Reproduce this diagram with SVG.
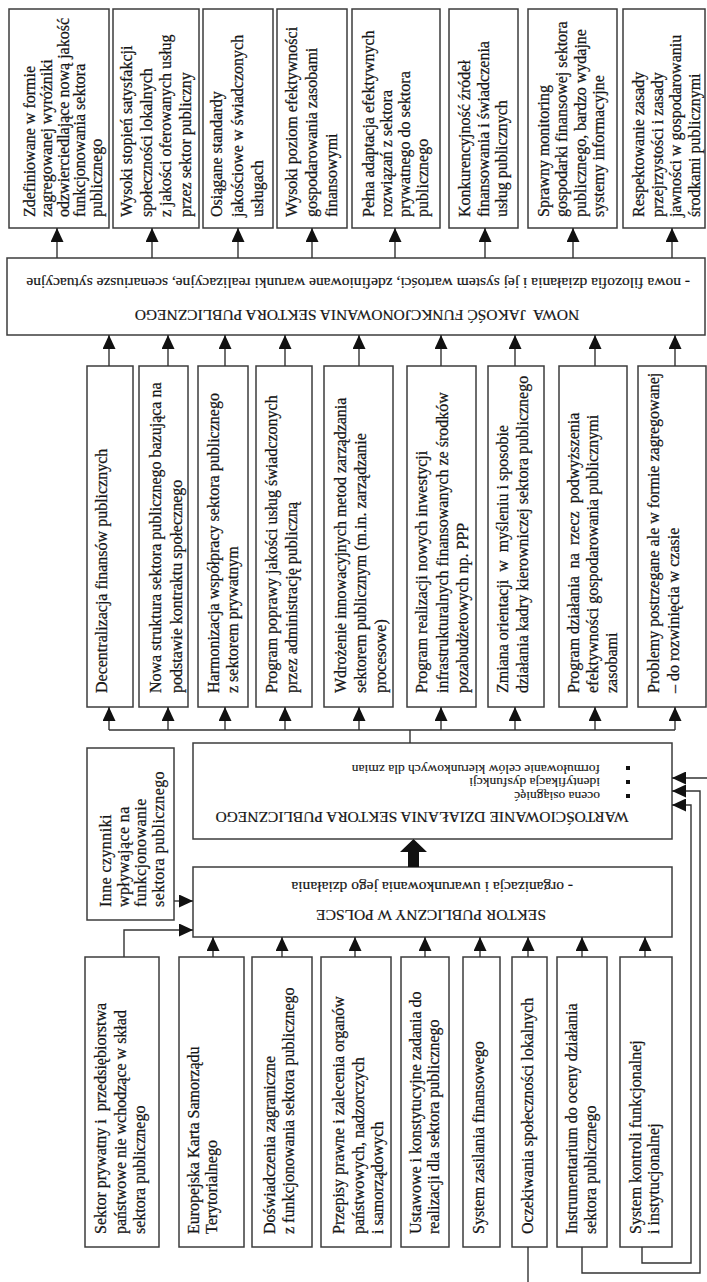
<svg xmlns="http://www.w3.org/2000/svg" width="707" height="1282" viewBox="0 0 707 1282">
<style>
.bg{fill:#fff}
.box{fill:#fff;stroke:#3c3c3c;stroke-width:1.5}
.t{font-family:"Liberation Serif","Times New Roman",serif;font-size:16px;fill:#151515;stroke:#151515;stroke-width:0.25;white-space:pre}
.h{font-family:"Liberation Serif","Times New Roman",serif;font-size:15.5px;fill:#151515;stroke:#151515;stroke-width:0.2;white-space:pre}
.s{font-family:"Liberation Serif","Times New Roman",serif;font-size:13.5px;fill:#151515;stroke:#151515;stroke-width:0.15;white-space:pre}
.ln{stroke:#333;stroke-width:1.4;fill:none}
.ar{stroke:#333;stroke-width:1.4;fill:none;marker-end:url(#ah)}
</style>
<defs>
<marker id="ah" viewBox="0 0 14 13" refX="14" refY="6.5" markerWidth="14" markerHeight="13" markerUnits="userSpaceOnUse" orient="auto">
<path d="M0,0 L14,6.5 L0,13 z" fill="#111"/>
</marker>
</defs>
<rect class="bg" x="0" y="0" width="707" height="1282"/>

<!-- top result boxes -->
<g id="top1"><rect class="box" x="9" y="9" width="100" height="219"/>
<text class="t" transform="translate(35,217) rotate(-90)"><tspan x="0" y="0">Zdefiniowane w formie</tspan><tspan x="0" y="16.8">zagregowanej wyróżniki</tspan><tspan x="0" y="33.6">odzwierciedlające nową jakość</tspan><tspan x="0" y="50.4">funkcjonowania sektora</tspan><tspan x="0" y="67.2">publicznego</tspan></text></g>
<g id="top2"><rect class="box" x="113" y="9" width="86" height="219"/>
<text class="t" transform="translate(132,217) rotate(-90)"><tspan x="0" y="0">Wysoki stopień satysfakcji</tspan><tspan x="0" y="19.7">społeczności lokalnych</tspan><tspan x="0" y="39.4">z jakości oferowanych usług</tspan><tspan x="0" y="59.1">przez sektor publiczny</tspan></text></g>
<g id="top3"><rect class="box" x="203" y="9" width="70" height="219"/>
<text class="t" transform="translate(222,217) rotate(-90)"><tspan x="0" y="0">Osiągane standardy</tspan><tspan x="0" y="20.5">jakościowe w świadczonych</tspan><tspan x="0" y="41">usługach</tspan></text></g>
<g id="top4"><rect class="box" x="277" y="9" width="70" height="219"/>
<text class="t" transform="translate(297,217) rotate(-90)"><tspan x="0" y="0">Wysoki poziom efektywności</tspan><tspan x="0" y="20">gospodarowania zasobami</tspan><tspan x="0" y="40">finansowymi</tspan></text></g>
<g id="top5"><rect class="box" x="352" y="9" width="88" height="219"/>
<text class="t" transform="translate(374,217) rotate(-90)"><tspan x="0" y="0">Pełna adaptacja efektywnych</tspan><tspan x="0" y="18">rozwiązań z sektora</tspan><tspan x="0" y="36">prywatnego do sektora</tspan><tspan x="0" y="54">publicznego</tspan></text></g>
<g id="top6"><rect class="box" x="449" y="9" width="69" height="219"/>
<text class="t" transform="translate(470,217) rotate(-90)"><tspan x="0" y="0">Konkurencyjność źródeł</tspan><tspan x="0" y="18.5">finansowania i świadczenia</tspan><tspan x="0" y="37">usług publicznych</tspan></text></g>
<g id="top7"><rect class="box" x="528" y="9" width="89" height="219"/>
<text class="t" transform="translate(549,217) rotate(-90)"><tspan x="0" y="0">Sprawny monitoring</tspan><tspan x="0" y="18.3">gospodarki finansowej sektora</tspan><tspan x="0" y="36.6">publicznego, bardzo wydajne</tspan><tspan x="0" y="54.9">systemy informacyjne</tspan></text></g>
<g id="top8"><rect class="box" x="623" y="9" width="82" height="219"/>
<text class="t" transform="translate(644,217) rotate(-90)"><tspan x="0" y="0">Respektowanie zasady</tspan><tspan x="0" y="18.7">przejrzystości i zasady</tspan><tspan x="0" y="37.4">jawności w gospodarowaniu</tspan><tspan x="0" y="56.1">środkami publicznymi</tspan></text></g>

<!-- NOWA JAKOSC box -->
<g id="nowa"><rect class="box" x="7" y="258" width="698" height="77"/>
<text class="h" text-anchor="start" transform="translate(690,278) rotate(180)">- nowa filozofia działania i jej system wartości, zdefiniowane warunki realizacyjne, scenariusze sytuacyjne</text>
<text class="h" text-anchor="middle" transform="translate(357,310) rotate(180)">NOWA  JAKOŚĆ FUNKCJONOWANIA SEKTORA PUBLICZNEGO</text></g>

<!-- middle program boxes -->
<g id="mid1"><rect class="box" x="87" y="366" width="46" height="341"/>
<text class="t" transform="translate(107,693) rotate(-90)"><tspan x="0" y="0">Decentralizacja finansów publicznych</tspan></text></g>
<g id="mid2"><rect class="box" x="139" y="366" width="49" height="341"/>
<text class="t" transform="translate(161,693) rotate(-90)"><tspan x="0" y="0">Nowa struktura sektora publicznego bazująca na</tspan><tspan x="0" y="21">podstawie kontraktu społecznego</tspan></text></g>
<g id="mid3"><rect class="box" x="198" y="366" width="50" height="341"/>
<text class="t" transform="translate(219,693) rotate(-90)"><tspan x="0" y="0">Harmonizacja współpracy sektora publicznego</tspan><tspan x="0" y="19">z sektorem prywatnym</tspan></text></g>
<g id="mid4"><rect class="box" x="256" y="366" width="56" height="341"/>
<text class="t" transform="translate(277,693) rotate(-90)"><tspan x="0" y="0">Program poprawy jakości usług świadczonych</tspan><tspan x="0" y="20">przez administrację publiczną</tspan></text></g>
<g id="mid5"><rect class="box" x="324" y="366" width="69" height="341"/>
<text class="t" transform="translate(346,693) rotate(-90)"><tspan x="0" y="0">Wdrożenie innowacyjnych metod zarządzania</tspan><tspan x="0" y="20">sektorem publicznym (m.in. zarządzanie</tspan><tspan x="0" y="40">procesowe)</tspan></text></g>
<g id="mid6"><rect class="box" x="407" y="366" width="69" height="341"/>
<text class="t" transform="translate(427,693) rotate(-90)"><tspan x="0" y="0">Program realizacji nowych inwestycji</tspan><tspan x="0" y="20.5">infrastrukturalnych finansowanych ze środków</tspan><tspan x="0" y="41">pozabudżetowych np. PPP</tspan></text></g>
<g id="mid7"><rect class="box" x="488" y="366" width="56" height="341"/>
<text class="t" transform="translate(508,693) rotate(-90)"><tspan x="0" y="0">Zmiana orientacji  w  myśleniu i sposobie</tspan><tspan x="0" y="20">działania kadry kierowniczej sektora publicznego</tspan></text></g>
<g id="mid8"><rect class="box" x="559" y="366" width="68" height="341"/>
<text class="t" transform="translate(579,693) rotate(-90)"><tspan x="0" y="0">Program działania  na  rzecz  podwyższenia</tspan><tspan x="0" y="19">efektywności gospodarowania publicznymi</tspan><tspan x="0" y="38">zasobami</tspan></text></g>
<g id="mid9"><rect class="box" x="638" y="366" width="68" height="341"/>
<text class="t" transform="translate(659,693) rotate(-90)"><tspan x="0" y="0">Problemy postrzegane ale w formie zagregowanej</tspan><tspan x="0" y="20">– do rozwinięcia w czasie</tspan></text></g>

<!-- Inne czynniki -->
<g id="inne"><rect class="box" x="87" y="748" width="87" height="172"/>
<text class="t" transform="translate(111,907) rotate(-90)" letter-spacing="0.4"><tspan x="0" y="0">Inne czynniki</tspan><tspan x="0" y="17.5">wpływające na</tspan><tspan x="0" y="35">funkcjonowanie</tspan><tspan x="0" y="52.5">sektora publicznego</tspan></text></g>

<!-- WARTOSCIOWANIE -->
<g id="wart"><rect class="box" x="193" y="743" width="479" height="96"/>
<text class="s" text-anchor="start" transform="translate(600,765) rotate(180)">formułowanie celów kierunkowych dla zmian</text>
<text class="s" text-anchor="start" transform="translate(600,778) rotate(180)">identyfikacja dysfunkcji</text>
<text class="s" text-anchor="start" transform="translate(600,792) rotate(180)">ocena osiągnięć</text>
<rect x="626" y="766" width="4" height="4" fill="#111"/>
<rect x="626" y="780" width="4" height="4" fill="#111"/>
<rect x="626" y="794" width="4" height="4" fill="#111"/>
<text class="h" text-anchor="middle" transform="translate(422,812) rotate(180)">WARTOŚCIOWANIE DZIAŁANIA SEKTORA PUBLICZNEGO</text></g>

<!-- SEKTOR PUBLICZNY -->
<g id="sektor"><rect class="box" x="193" y="867" width="479" height="70"/>
<text class="h" text-anchor="start" transform="translate(573,882) rotate(180)">- organizacja i uwarunkowania jego działania</text>
<text class="h" text-anchor="middle" transform="translate(431,910) rotate(180)">SEKTOR PUBLICZNY W POLSCE</text></g>

<!-- bottom factor boxes -->
<g id="bot1"><rect class="box" x="85" y="957" width="74" height="290"/>
<text class="t" transform="translate(106,1234) rotate(-90)"><tspan x="0" y="0">Sektor prywatny i  przedsiębiorstwa</tspan><tspan x="0" y="19.5">państwowe nie wchodzące w skład</tspan><tspan x="0" y="39">sektora publicznego</tspan></text></g>
<g id="bot2"><rect class="box" x="179" y="957" width="65" height="290"/>
<text class="t" transform="translate(199,1234) rotate(-90)"><tspan x="0" y="0">Europejska Karta Samorządu</tspan><tspan x="0" y="18">Terytorialnego</tspan></text></g>
<g id="bot3"><rect class="box" x="252" y="957" width="60" height="290"/>
<text class="t" transform="translate(275,1234) rotate(-90)"><tspan x="0" y="0">Doświadczenia zagraniczne</tspan><tspan x="0" y="19">z funkcjonowania sektora publicznego</tspan></text></g>
<g id="bot4"><rect class="box" x="321" y="957" width="70" height="290"/>
<text class="t" transform="translate(344,1234) rotate(-90)"><tspan x="0" y="0">Przepisy prawne i zalecenia organów</tspan><tspan x="0" y="19.5">państwowych, nadzorczych</tspan><tspan x="0" y="39">i samorządowych</tspan></text></g>
<g id="bot5"><rect class="box" x="401" y="957" width="48" height="290"/>
<text class="t" transform="translate(421,1234) rotate(-90)"><tspan x="0" y="0">Ustawowe i konstytucyjne zadania do</tspan><tspan x="0" y="18">realizacji dla sektora publicznego</tspan></text></g>
<g id="bot6"><rect class="box" x="463" y="957" width="37" height="290"/>
<text class="t" transform="translate(484,1234) rotate(-90)"><tspan x="0" y="0">System zasilania finansowego</tspan></text></g>
<g id="bot7"><rect class="box" x="512" y="957" width="35" height="290"/>
<text class="t" transform="translate(533,1234) rotate(-90)"><tspan x="0" y="0">Oczekiwania społeczności lokalnych</tspan></text></g>
<g id="bot8"><rect class="box" x="557" y="957" width="50" height="290"/>
<text class="t" transform="translate(577,1234) rotate(-90)"><tspan x="0" y="0">Instrumentarium do oceny działania</tspan><tspan x="0" y="19">sektora publicznego</tspan></text></g>
<g id="bot9"><rect class="box" x="620" y="957" width="52" height="290"/>
<text class="t" transform="translate(641,1234) rotate(-90)"><tspan x="0" y="0">System kontroli funkcjonalnej</tspan><tspan x="0" y="18">i instytucjonalnej</tspan></text></g>

<!-- connectors -->
<g id="connectors">
<path class="ar" d="M57,258 V228"/>
<path class="ar" d="M152,258 V228"/>
<path class="ar" d="M238,258 V228"/>
<path class="ar" d="M312,258 V228"/>
<path class="ar" d="M395,258 V228"/>
<path class="ar" d="M485,258 V228"/>
<path class="ar" d="M573,258 V228"/>
<path class="ar" d="M672,258 V228"/>

<path class="ar" d="M109,366 V335"/>
<path class="ar" d="M168,366 V335"/>
<path class="ar" d="M225,366 V335"/>
<path class="ar" d="M285,366 V335"/>
<path class="ar" d="M359,366 V335"/>
<path class="ar" d="M441,366 V335"/>
<path class="ar" d="M515,366 V335"/>
<path class="ar" d="M595,366 V335"/>
<path class="ar" d="M675,366 V335"/>

<path class="ln" d="M109,730 H675 M410,743 V730"/>
<path class="ar" d="M109,730 V707"/>
<path class="ar" d="M168,730 V707"/>
<path class="ar" d="M225,730 V707"/>
<path class="ar" d="M285,730 V707"/>
<path class="ar" d="M359,730 V707"/>
<path class="ar" d="M441,730 V707"/>
<path class="ar" d="M515,730 V707"/>
<path class="ar" d="M595,730 V707"/>
<path class="ar" d="M675,730 V707"/>

<polygon points="408,867 419,867 419,852 427,852 413.5,839 400,852 408,852" fill="#111"/>

<path class="ar" d="M174,901 H193"/>
<path class="ar" d="M124,957 V930 H193"/>
<path class="ar" d="M213,957 V937"/>
<path class="ar" d="M282,957 V937"/>
<path class="ar" d="M355,957 V937"/>
<path class="ar" d="M425,957 V937"/>
<path class="ar" d="M480,957 V937"/>
<path class="ar" d="M528,957 V937"/>
<path class="ar" d="M582,957 V937"/>
<path class="ar" d="M645,957 V937"/>

<path class="ar" d="M707,778 H672"/>
<path class="ar" d="M582,1247 V1273 H700 V791 H672"/>
<path class="ar" d="M642,1247 V1263 H691 V805 H672"/>
<path class="ln" d="M528,1247 V1282"/>
</g>
</svg>
